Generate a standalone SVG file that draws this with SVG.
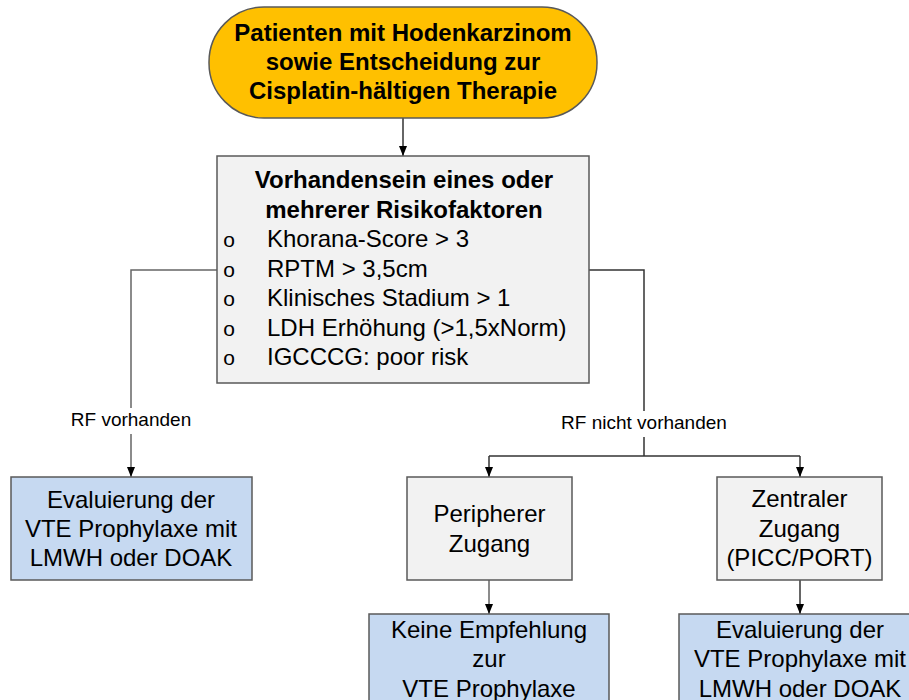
<svg xmlns="http://www.w3.org/2000/svg" width="909" height="700" viewBox="0 0 909 700">
  <defs>
    <style>
      text { font-family: "Liberation Sans", Arial, sans-serif; fill: #000; }
      .b { font-weight: bold; font-size: 24px; text-anchor: middle; }
      .r { font-size: 24px; text-anchor: middle; }
      .l { font-size: 24px; }
      .bul { font-size: 21px; text-anchor: middle; }
      .lab { font-size: 19px; text-anchor: middle; }
      .term { fill: #FFC000; stroke: #595959; stroke-width: 1.5; }
      .gray { fill: #F2F2F2; stroke: #595959; stroke-width: 1.5; }
      .blue { fill: #C6D9F1; stroke: #595959; stroke-width: 1.5; }
      .con { fill: none; stroke: #333; stroke-width: 1.5; }
      .con2 { fill: none; stroke: #666; stroke-width: 1.5; }
    </style>
    <marker id="arr" viewBox="0 0 10 8" refX="10" refY="4" markerWidth="10" markerHeight="8" markerUnits="userSpaceOnUse" orient="auto">
      <path d="M0,0 L10,4 L0,8 Z" fill="#000"/>
    </marker>
  </defs>

  <g id="connectors">
    <path class="con" d="M403,118 L403,156" marker-end="url(#arr)"/>
    <path class="con2" d="M217,270 L131,270 L131,477" marker-end="url(#arr)"/>
    <path class="con" d="M589,270 L644,270 L644,456"/>
    <path class="con" d="M489,456 L800,456"/>
    <path class="con" d="M489,456 L489,477" marker-end="url(#arr)"/>
    <path class="con" d="M800,456 L800,477" marker-end="url(#arr)"/>
    <path class="con2" d="M489,580 L489,614" marker-end="url(#arr)"/>
    <path class="con" d="M800,580 L800,614" marker-end="url(#arr)"/>
    <g id="label-rf-vorhanden">
      <rect x="70" y="408" width="122" height="26" fill="#fff"/>
      <text class="lab" x="131" y="426">RF vorhanden</text>
    </g>
    <g id="label-rf-nicht">
      <rect x="559" y="411" width="170" height="26" fill="#fff"/>
      <text class="lab" x="644" y="429">RF nicht vorhanden</text>
    </g>
  </g>

  <g id="start">
    <rect class="term" x="209" y="7" width="388" height="111" rx="55" ry="55"/>
    <text class="b" x="403" y="41">Patienten mit Hodenkarzinom</text>
    <text class="b" x="403" y="70">sowie Entscheidung zur</text>
    <text class="b" x="403" y="99">Cisplatin-hältigen Therapie</text>
  </g>

  <g id="risk">
    <rect class="gray" x="217" y="156" width="372" height="227"/>
    <text class="b" x="404" y="188">Vorhandensein eines oder</text>
    <text class="b" x="404" y="218">mehrerer Risikofaktoren</text>
    <text class="bul" x="229" y="247">o</text>
    <text class="bul" x="229" y="277">o</text>
    <text class="bul" x="229" y="306">o</text>
    <text class="bul" x="229" y="336">o</text>
    <text class="bul" x="229" y="365">o</text>
    <text class="l" x="267" y="247">Khorana-Score &gt; 3</text>
    <text class="l" x="267" y="277">RPTM &gt; 3,5cm</text>
    <text class="l" x="267" y="306">Klinisches Stadium &gt; 1</text>
    <text class="l" x="267" y="336">LDH Erhöhung (&gt;1,5xNorm)</text>
    <text class="l" x="267" y="365">IGCCCG: poor risk</text>
  </g>

  <g id="eval-left">
    <rect class="blue" x="11" y="477" width="241" height="103"/>
    <text class="r" x="131" y="507.5">Evaluierung der</text>
    <text class="r" x="131" y="536.5">VTE Prophylaxe mit</text>
    <text class="r" x="131" y="565.5">LMWH oder DOAK</text>
  </g>

  <g id="peripher">
    <rect class="gray" x="407" y="477" width="165" height="103"/>
    <text class="r" x="489.5" y="521.5">Peripherer</text>
    <text class="r" x="489.5" y="551.5">Zugang</text>
  </g>

  <g id="zentral">
    <rect class="gray" x="717" y="477" width="165" height="103"/>
    <text class="r" x="799.5" y="506.5">Zentraler</text>
    <text class="r" x="799.5" y="536.5">Zugang</text>
    <text class="r" x="799.5" y="565.5">(PICC/PORT)</text>
  </g>

  <g id="keine">
    <rect class="blue" x="369" y="614" width="240" height="100"/>
    <text class="r" x="489" y="637.5">Keine Empfehlung</text>
    <text class="r" x="489" y="667">zur</text>
    <text class="r" x="489" y="696.5">VTE Prophylaxe</text>
  </g>

  <g id="eval-right">
    <rect class="blue" x="679" y="614" width="242" height="100"/>
    <text class="r" x="800" y="637.5">Evaluierung der</text>
    <text class="r" x="800" y="667">VTE Prophylaxe mit</text>
    <text class="r" x="800" y="696.5">LMWH oder DOAK</text>
  </g>
</svg>
